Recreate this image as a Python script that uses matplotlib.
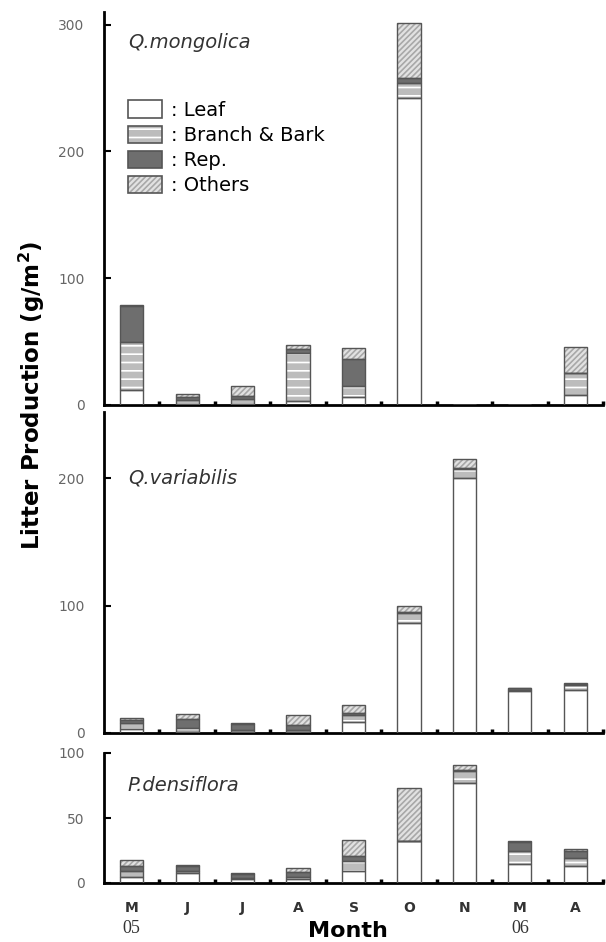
import matplotlib
matplotlib.use("Agg")
import matplotlib.pyplot as plt
import numpy as np
from matplotlib.patches import Patch
from matplotlib.legend_handler import HandlerTuple

months = ["M", "J", "J", "A", "S", "O", "N", "M", "A"]
years = {0: "05", 7: "06"}
components = ["Leaf", "Branch & Bark", "Rep.", "Others"]

# Q. mongolica
qm_leaf   = [12, 1, 1, 3, 6, 242, 0, 0, 8]
qm_branch = [38, 3, 4, 38, 9, 12, 0, 0, 17]
qm_rep    = [28, 2, 2, 3, 21, 4, 0, 0, 0.5]
qm_others = [1, 3, 8, 3, 9, 43, 0, 0, 20]

# Q. variabilis
qv_leaf   = [3, 1, 1, 1, 9, 86, 200, 33, 34]
qv_branch = [5, 3, 1, 1, 5, 8, 7, 1, 4]
qv_rep    = [2, 7, 5, 4, 2, 1, 1, 1, 0.5]
qv_others = [2, 4, 1, 8, 6, 5, 7, 0.5, 1]

# P. densiflora
pd_leaf   = [5, 8, 3, 3, 9, 32, 77, 15, 13]
pd_branch = [4, 1, 1, 1.5, 8, 0, 9, 10, 6]
pd_rep    = [4, 4, 3, 4.3, 4, 0, 1, 6.5, 6]
pd_others = [5, 1, 1, 3, 12, 41, 4, 1, 1]

species = ["Q.mongolica", "Q.variabilis", "P.densiflora"]
ylims = [310, 252, 100]
yticks = [[0, 100, 200, 300], [0, 100, 200], [0, 50, 100]]

W, H = 606, 942
fig = plt.figure(figsize=(W / 100, H / 100), dpi=100)
plt.rcParams['hatch.linewidth'] = 1.2

def ax_rect(top_px, bot_px):
    left = 104 / W
    right = 603 / W
    return [left, 1 - bot_px / H, right - left, (bot_px - top_px) / H]

rects = [ax_rect(12, 405), ax_rect(412, 733), ax_rect(753, 883)]

styles = [
    dict(face="white", hatch=None, hcolor="white"),
    dict(face="#bcbcbc", hatch="--", hcolor="white"),
    dict(face="#6e6e6e", hatch=None, hcolor="#6e6e6e"),
    dict(face="#e2e2e2", hatch="//////", hcolor="#a8a8a8"),
]
edge = "#555555"
x = np.arange(len(months))
bw = 0.42

data = [
    [qm_leaf, qm_branch, qm_rep, qm_others],
    [qv_leaf, qv_branch, qv_rep, qv_others],
    [pd_leaf, pd_branch, pd_rep, pd_others],
]
label_y = [0.922, 0.795, 0.75]

axes = []
for i, (rect, series) in enumerate(zip(rects, data)):
    ax = fig.add_axes(rect)
    axes.append(ax)
    bottom = np.zeros(len(months))
    for st, vals in zip(styles, series):
        vals = np.array(vals, dtype=float)
        ax.bar(x, vals, bw, bottom=bottom, color=st["face"], edgecolor=st["hcolor"],
               hatch=st["hatch"], linewidth=0, zorder=2)
        ax.bar(x, vals, bw, bottom=bottom, fill=False, edgecolor=edge,
               linewidth=1.0, zorder=3)
        bottom += vals
    ax.set_xlim(-0.5, 8.5)
    ax.set_ylim(0, ylims[i])
    for s in ["top", "right"]:
        ax.spines[s].set_visible(False)
    for s in ["left", "bottom"]:
        ax.spines[s].set_linewidth(2.0)
        ax.spines[s].set_color("black")
    ax.set_yticks(yticks[i])
    ax.set_yticklabels([str(t) for t in yticks[i]], color="#666666", fontsize=10,
                       fontfamily="DejaVu Sans")
    ax.tick_params(axis="y", direction="in", length=5, width=1.5, pad=14)
    ax.set_xticks(np.arange(0.5, 9, 1.0))
    ax.tick_params(axis="x", direction="in", length=3, width=2.5, labelbottom=False)
    ax.set_xticks(x, minor=True)
    ax.tick_params(axis="x", which="minor", length=0)
    ax.text(0.048, label_y[i], species[i], transform=ax.transAxes,
            fontsize=14, fontstyle="italic", fontfamily="DejaVu Sans", color="#333333",
            va="center", ha="left")

# x labels on bottom panel
axb = axes[2]
axb.set_xticklabels(months, minor=True, fontsize=10, fontweight="bold", color="#333333")
axb.tick_params(axis="x", which="minor", labelbottom=True, pad=13)
for idx, yr in years.items():
    axb.text(x[idx], -0.35, yr, transform=axb.get_xaxis_transform(), ha="center",
             va="center", fontsize=13, fontfamily="Liberation Serif", color="#333333")
fig.text(348 / W, 1 - 931 / H, "Month", ha="center", va="center", fontsize=16,
         fontweight="bold")
fig.text(32 / W, 1 - 395 / H, "Litter Production (g/m$^\\mathbf{2}$)", rotation=90,
         ha="center", va="center", fontsize=16.5, fontweight="bold")

# legend
handles = []
for st in styles:
    p1 = Patch(facecolor=st["face"], edgecolor=st["hcolor"], hatch=st["hatch"], linewidth=0)
    p2 = Patch(fill=False, edgecolor=edge, linewidth=1.2)
    handles.append((p1, p2))
labels = [": " + c for c in components]
axes[0].legend(handles, labels, handler_map={tuple: HandlerTuple(ndivide=1, pad=0)},
               loc="upper left", bbox_to_anchor=(0.048, 0.775), frameon=False,
               handlelength=1.75, handleheight=1.0, labelspacing=0.3,
               handletextpad=0.45, borderaxespad=0.0, borderpad=0.0,
               prop={"family": "DejaVu Sans", "size": 14})

fig.savefig("out.png", dpi=100)
